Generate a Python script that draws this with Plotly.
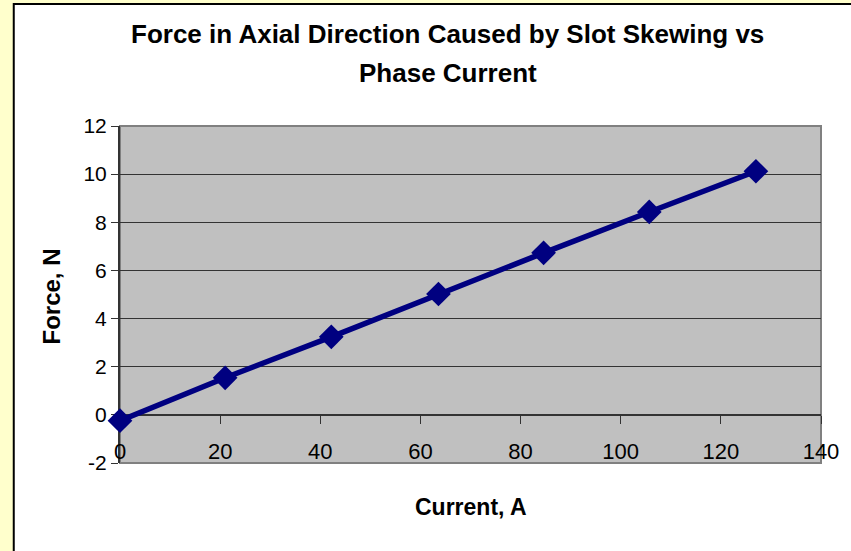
import plotly.graph_objects as go

# Measured data: axial force from slot skewing against phase current
current_a = [0, 21.0, 42.2, 63.6, 84.6, 105.7, 127.0]
force_n = [-0.24, 1.54, 3.24, 5.02, 6.73, 8.43, 10.12]

x_ticks = [0, 20, 40, 60, 80, 100, 120, 140]
x_tick_text = ["0", "20", "40", "60", "80", "100", "120", "140"]
y_ticks = [-2, 0, 2, 4, 6, 8, 10, 12]
y_tick_text = ["-2", "0", "2", "4", "6", "8", "10", "12"]

W, H = 851, 551
ML, MR, MT, MB = 120, 25, 126, 88
PW, PH = W - ML - MR, H - MT - MB

Y_MIN, Y_MAX = -2, 12


def px_x(p):
    return (p - ML) / PW


def px_y(p):
    return 1 - (p - MT) / PH


FONT = "Arial, Liberation Sans, sans-serif"

fig = go.Figure()
fig.add_trace(go.Scatter(
    x=current_a, y=force_n, mode="lines+markers",
    line=dict(color="#000080", width=5.5),
    marker=dict(symbol="diamond", size=19, color="#000080"),
    showlegend=False, cliponaxis=False,
))

# x axis sits on the zero line of the force axis
zero_pos = (0 - Y_MIN) / (Y_MAX - Y_MIN)

fig.update_layout(
    width=W, height=H,
    margin=dict(l=ML, r=MR, t=MT, b=MB),
    paper_bgcolor="#FFFFCC",
    plot_bgcolor="#C0C0C0",
    font=dict(family=FONT, color="black"),
    xaxis=dict(
        range=[0, 140], tickvals=x_ticks, ticktext=x_tick_text,
        ticks="outside", ticklen=8, tickcolor="#333333", tickwidth=1,
        showgrid=False, zeroline=False, showline=True, linecolor="#333333",
        linewidth=1, anchor="free", position=zero_pos,
        tickfont=dict(size=22), ticklabelstandoff=9, layer="below traces",
    ),
    yaxis=dict(
        range=[Y_MIN, Y_MAX], tickvals=y_ticks, ticktext=y_tick_text,
        ticks="outside", ticklen=7,
        tickcolor="#333333", showgrid=True, gridcolor="#333333", gridwidth=1,
        zeroline=False, showline=True, linecolor="#333333", linewidth=2,
        tickfont=dict(size=21), layer="below traces",
    ),
    shapes=[
        # white chart area with its frame
        dict(type="rect", xref="paper", yref="paper",
             x0=px_x(13), x1=px_x(W + 10), y0=px_y(H + 10), y1=px_y(4),
             fillcolor="white", line=dict(color="black", width=2), layer="below"),
        # grey plot area with its border
        dict(type="rect", xref="x domain", yref="y domain",
             x0=0, x1=1, y0=0, y1=1, fillcolor="#C0C0C0",
             line=dict(color="#808080", width=2), layer="below"),
    ],
    annotations=[
        dict(text="<b>Force in Axial Direction Caused by Slot Skewing vs</b>",
             xref="paper", yref="paper", x=px_x(450), y=px_y(34),
             showarrow=False, font=dict(size=26), xanchor="center", yanchor="middle"),
        dict(text="<b>Phase Current</b>",
             xref="paper", yref="paper", x=px_x(450), y=px_y(73),
             showarrow=False, font=dict(size=26), xanchor="center", yanchor="middle"),
        dict(text="<b>Current, A</b>",
             xref="paper", yref="paper", x=px_x(473), y=px_y(507),
             showarrow=False, font=dict(size=23), xanchor="center", yanchor="middle"),
        dict(text="<b>Force, N</b>", textangle=-90,
             xref="paper", yref="paper", x=px_x(51), y=px_y(296),
             showarrow=False, font=dict(size=24), xanchor="center", yanchor="middle"),
    ],
)

fig.write_html("out.html")
